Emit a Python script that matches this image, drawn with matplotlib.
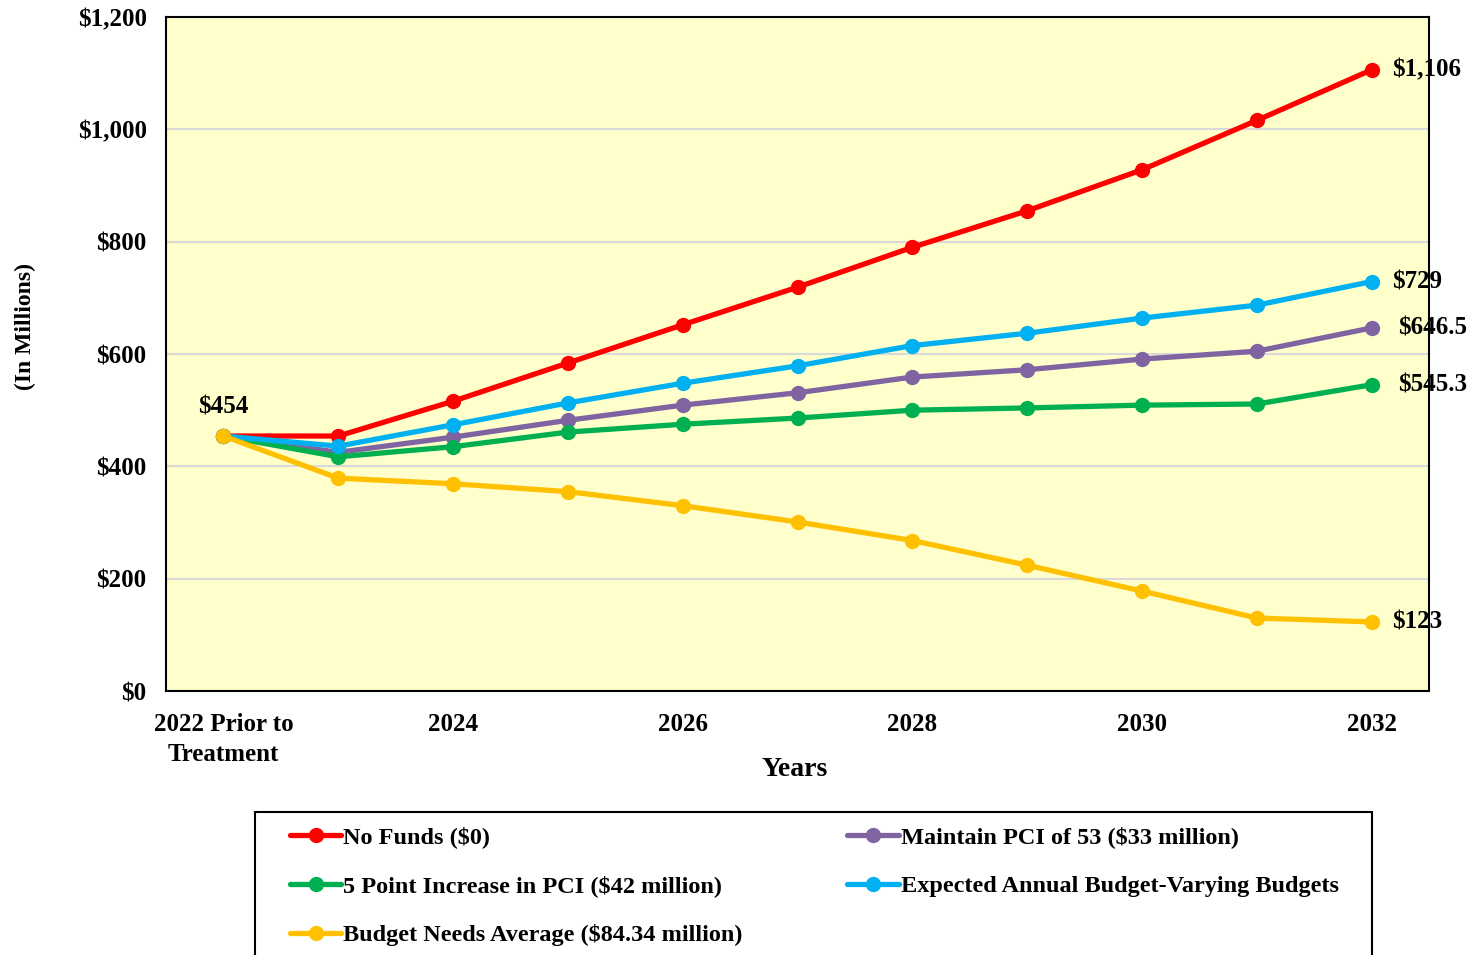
import numpy as np
from matplotlib import pyplot as plt
from matplotlib.patches import Rectangle

#data (in millions):
years      = ['2022 Prior to\nTreatment', '2023', '2024', '2025', '2026', '2027',
              '2028', '2029', '2030', '2031', '2032']
no_funds   = [454, 454, 516, 584, 652, 719, 790, 855, 928, 1016, 1106]
maintain   = [454, 425, 452, 482, 509, 531, 559, 572, 591, 605, 646.5]
five_point = [454, 417, 435, 461, 475, 486, 500, 504, 509, 511, 545.3]
expected   = [454, 436, 474, 513, 548, 579, 615, 637, 664, 687, 729]
needs_avg  = [454, 379, 369, 355, 330, 301, 268, 224, 178, 130, 123]

series = [
    ('No Funds ($0)', no_funds, '#FF0000', '$1,106'),
    ('Maintain PCI of 53 ($33 million)', maintain, '#8064A2', '$646.5'),
    ('5 Point Increase in PCI ($42 million)', five_point, '#00B050', '$545.3'),
    ('Expected Annual Budget-Varying Budgets', expected, '#00B0F0', '$729'),
    ('Budget Needs Average ($84.34 million)', needs_avg, '#FFC000', '$123'),
]
label_dx = {'$1,106': 14.5, '$646.5': 19, '$545.3': 19, '$729': 14.5, '$123': 14.5}

plt.rcParams['font.family'] = ['Liberation Serif', 'DejaVu Serif']
plt.rcParams['font.weight'] = 'bold'

x = np.arange(len(years))

fig = plt.figure(figsize=(14.8, 9.55), dpi=100)
ax = fig.add_axes([0.1122, 0.2764, 0.8534, 0.7058])
ax.set_facecolor('#FFFFCC')

lines = {}
for name, vals, col, lab in series:
    ln, = ax.plot(x, vals, color=col, lw=3.8, marker='o', ms=10, label=name,
                  solid_capstyle='round', zorder=3)
    lines[name] = ln
    ax.annotate(lab, (x[-1], vals[-1]), xytext=(label_dx[lab], 0),
                textcoords='offset points', va='center', ha='left',
                fontsize=18, fontweight='bold', annotation_clip=False)

ax.annotate('$454', (x[0], no_funds[0]), xytext=(0, 21), textcoords='offset points',
            ha='center', va='center', fontsize=18, fontweight='bold')

ax.set_xlim(-0.5, 10.5)
ax.set_ylim(0, 1200)
ax.set_yticks(np.arange(0, 1201, 200))
ax.set_yticklabels(['${:,}'.format(v) for v in range(0, 1201, 200)])
ax.set_xticks(x[::2])
ax.set_xticklabels(years[::2], linespacing=1.35)
ax.tick_params(axis='both', length=0, labelsize=18)
ax.tick_params(axis='y', pad=14)
ax.tick_params(axis='x', pad=16)
ax.grid(axis='y', color='#D9D9D9', lw=1.5, zorder=1)
for s in ax.spines.values():
    s.set_color('black')
    s.set_linewidth(1.5)
    s.set_zorder(5)

ax.set_xlabel('Years', fontsize=20, fontweight='bold', va='center')
ax.xaxis.set_label_coords((795 - 166) / 1263, (691 - 769) / 674)
fig.text(25 / 1480, 1 - 326 / 955, '(In Millions)', rotation=90, ha='center',
         va='center', fontsize=17, fontweight='bold')

#legend: frame drawn separately so it runs off the bottom edge
fig.add_artist(Rectangle((255 / 1480, -0.02), (1372 - 255) / 1480,
                         (955 - 812) / 955 + 0.02, transform=fig.transFigure,
                         fill=False, ec='black', lw=1.5))
order = [series[0][0], series[2][0], series[4][0], series[1][0], series[3][0]]
leg = fig.legend([lines[n] for n in order], order, ncol=2, loc='upper left',
                 bbox_to_anchor=(290 / 1480, 1 - 826 / 955), fontsize=17.5,
                 frameon=False, handlelength=2.1, handletextpad=0.1,
                 labelspacing=1.12, columnspacing=4.3, borderpad=0,
                 borderaxespad=0)

plt.savefig('out.png', dpi=100)
